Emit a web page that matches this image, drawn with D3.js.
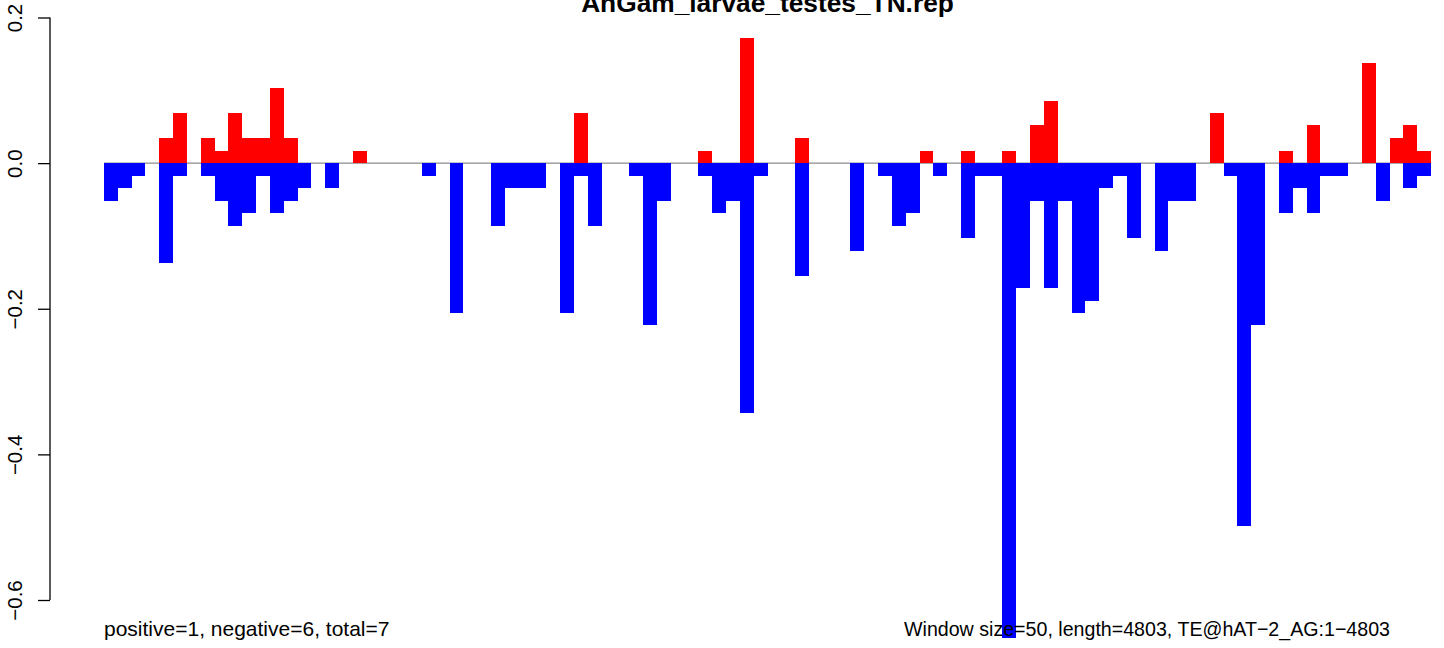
<!DOCTYPE html>
<html>
<head>
<meta charset="utf-8">
<script src="https://cdn.jsdelivr.net/npm/d3@7"></script>
<style>
  html, body { margin: 0; padding: 0; background: #fff; }
  svg { display: block; font-family: "Liberation Sans", Arial, Helvetica, sans-serif; }
</style>
</head>
<body>
<svg id="chart" width="1444" height="648"></svg>
<script>
// ---- data (one window of 50 bp per bar; 96 windows) ----
const titleText = "AnGam_larvae_testes_TN.rep";
const leftNote = "positive=1, negative=6, total=7";
const rightNote = "Window size=50, length=4803, TE@hAT\u22122_AG:1\u22124803";
const yTicks = [0.2, 0.0, -0.2, -0.4, -0.6];

const positiveValues = [
  0, 0, 0, 0, 0.034, 0.069, 0, 0.034, 0.017, 0.069,
  0.034, 0.034, 0.103, 0.034, 0, 0, 0, 0, 0.017, 0,
  0, 0, 0, 0, 0, 0, 0, 0, 0, 0,
  0, 0, 0, 0, 0.069, 0, 0, 0, 0, 0,
  0, 0, 0, 0.017, 0, 0, 0.172, 0, 0, 0,
  0.034, 0, 0, 0, 0, 0, 0, 0, 0, 0.017,
  0, 0, 0.017, 0, 0, 0.017, 0, 0.052, 0.086, 0,
  0, 0, 0, 0, 0, 0, 0, 0, 0, 0,
  0.069, 0, 0, 0, 0, 0.017, 0, 0.052, 0, 0,
  0, 0.137, 0, 0.034, 0.052, 0.017
];
const negativeValues = [
  -0.052, -0.034, -0.017, 0, -0.137, -0.017, 0, -0.017, -0.052, -0.086,
  -0.069, -0.017, -0.069, -0.052, -0.034, 0, -0.034, 0, 0, 0,
  0, 0, 0, -0.017, 0, -0.206, 0, 0, -0.086, -0.034,
  -0.034, -0.034, 0, -0.206, -0.017, -0.086, 0, 0, -0.017, -0.223,
  -0.052, 0, 0, -0.017, -0.069, -0.052, -0.343, -0.017, 0, 0,
  -0.155, 0, 0, 0, -0.120, 0, -0.017, -0.086, -0.069, 0,
  -0.017, 0, -0.103, -0.017, -0.017, -0.652, -0.172, -0.052, -0.172, -0.052,
  -0.206, -0.189, -0.034, -0.017, -0.103, 0, -0.120, -0.052, -0.052, 0,
  0, -0.017, -0.498, -0.223, 0, -0.069, -0.034, -0.069, -0.017, -0.017,
  0, 0, -0.052, 0, -0.034, -0.017
];
const windowIndex = positiveValues.map((_, i) => i);

// ---- layout ----
const svg = d3.select("#chart");
const plotLeft = 104, plotRight = 1431;
const y = d3.scaleLinear().domain([-0.6, 0.2]).range([600, 17.5]);
const x = d3.scaleBand().domain(windowIndex).range([plotLeft, plotRight]).padding(0);

// zero line
svg.append("line")
  .attr("x1", plotLeft).attr("x2", plotRight)
  .attr("y1", y(0)).attr("y2", y(0))
  .attr("stroke", "#8c8c8c").attr("stroke-width", 1.3);

// positive bars
svg.append("g").selectAll("rect")
  .data(positiveValues.map((v, i) => ({i, v})).filter(d => d.v > 0))
  .join("rect")
  .attr("x", d => x(d.i))
  .attr("width", x.bandwidth())
  .attr("y", d => y(d.v))
  .attr("height", d => y(0) - y(d.v))
  .attr("fill", "#ff0000")
  .attr("shape-rendering", "crispEdges");

// negative bars
svg.append("g").selectAll("rect")
  .data(negativeValues.map((v, i) => ({i, v})).filter(d => d.v < 0))
  .join("rect")
  .attr("x", d => x(d.i))
  .attr("width", x.bandwidth())
  .attr("y", y(0))
  .attr("height", d => y(d.v) - y(0))
  .attr("fill", "#0000ff")
  .attr("shape-rendering", "crispEdges");

// y axis
const axis = d3.axisLeft(y)
  .tickValues(yTicks)
  .tickSize(12)
  .tickPadding(0)
  .tickFormat(d => d3.format(".1f")(d).replace("-", "\u2212"));
const ag = svg.append("g").attr("transform", "translate(50,0)").call(axis);
ag.select(".domain").attr("stroke", "#000").attr("stroke-width", 1.3)
  .attr("d", `M0,${y(0.2)}V${y(-0.6)}`);
ag.selectAll(".tick line").attr("stroke", "#000").attr("stroke-width", 1.3);
ag.selectAll(".tick text")
  .attr("x", 0).attr("y", 0)
  .attr("dy", 0)
  .attr("transform", "translate(-28,0) rotate(-90)")
  .attr("text-anchor", "middle")
  .attr("fill", "#000")
  .style("font-size", "20.5px")
  .style("font-family", "'Liberation Sans', Arial, sans-serif");

// title
svg.append("text")
  .attr("x", (plotLeft + plotRight) / 2).attr("y", 12)
  .attr("text-anchor", "middle")
  .style("font-size", "26.3px").style("font-weight", "bold")
  .text(titleText);

// bottom notes
svg.append("text")
  .attr("x", 104).attr("y", 636)
  .style("font-size", "21px")
  .text(leftNote);
svg.append("text")
  .attr("x", 904).attr("y", 636)
  .attr("textLength", 486)
  .attr("lengthAdjust", "spacingAndGlyphs")
  .style("font-size", "20.5px")
  .text(rightNote);
</script>
</body>
</html>
